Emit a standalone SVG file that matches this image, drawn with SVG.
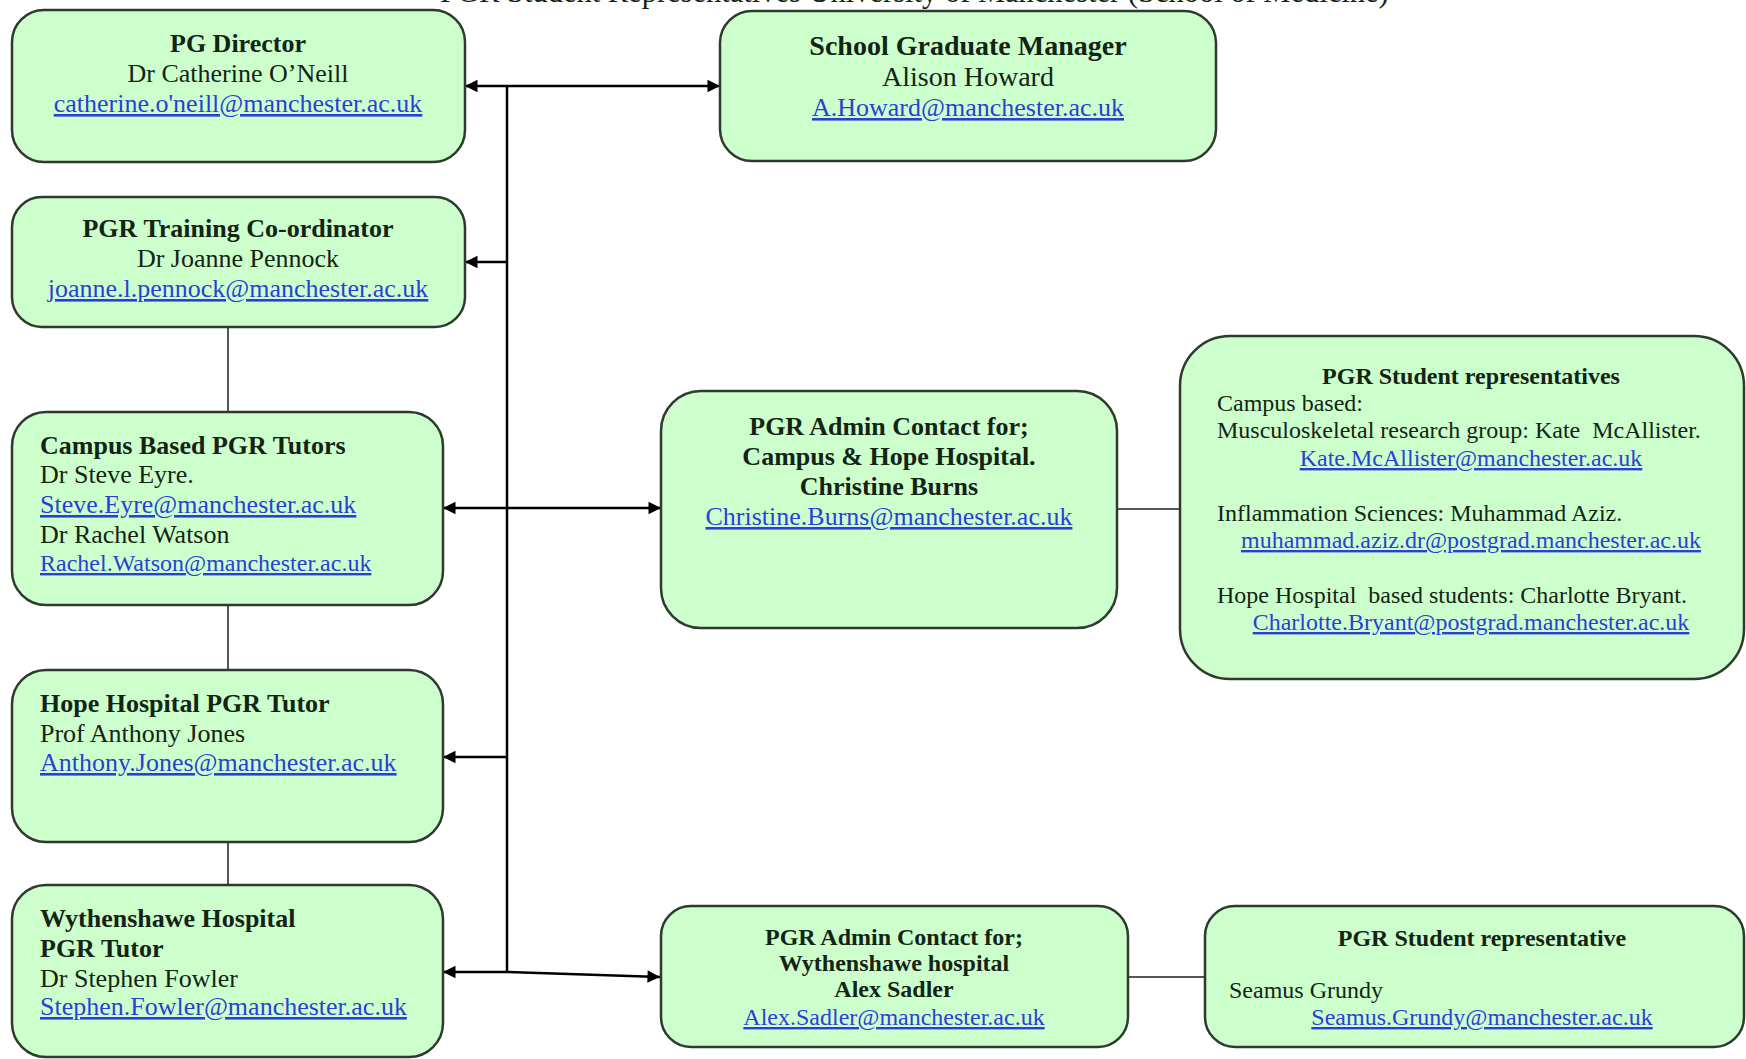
<svg xmlns="http://www.w3.org/2000/svg" width="1746" height="1059" viewBox="0 0 1746 1059">
<style>
.box{fill:#ccffcc;stroke:#2e3a2e;stroke-width:2.5}
text{font-family:"Liberation Serif","Times New Roman",serif;fill:#142414}
.t{font-size:26px}
.b{font-weight:bold}
.s{font-size:24px}
.l{fill:#2b3fd6;text-decoration:underline}
.c{text-anchor:middle}
.conn{stroke:#000;stroke-width:2.5;fill:none}
.tree{stroke:#555;stroke-width:2;fill:none}
</style>
<defs>
<marker id="ah" viewBox="0 0 10 10" refX="10" refY="5" markerWidth="6" markerHeight="5" orient="auto-start-reverse" markerUnits="strokeWidth">
<path d="M0,0 L10,5 L0,10 z" fill="#000"/>
</marker>
</defs>
<text x="440" y="1.5" style="font-size:30.5px" fill="#000">PGR Student Representatives University of Manchester (School of Medicine)</text>
<g id="connectors">
<line class="conn" x1="507" y1="86" x2="507" y2="972"/>
<line class="conn" x1="465" y1="86" x2="720" y2="86" marker-start="url(#ah)" marker-end="url(#ah)"/>
<line class="conn" x1="507" y1="262" x2="465" y2="262" marker-end="url(#ah)"/>
<line class="conn" x1="443" y1="508" x2="661" y2="508" marker-start="url(#ah)" marker-end="url(#ah)"/>
<line class="conn" x1="507" y1="757" x2="443" y2="757" marker-end="url(#ah)"/>
<polyline class="conn" points="443,972 507,972 660,977" marker-start="url(#ah)" marker-end="url(#ah)"/>
<line class="tree" x1="1117" y1="509" x2="1180" y2="509"/>
<line class="tree" x1="1128" y1="977" x2="1205" y2="977"/>
<line class="tree" x1="228" y1="327" x2="228" y2="412"/>
<line class="tree" x1="228" y1="605" x2="228" y2="670"/>
<line class="tree" x1="228" y1="842" x2="228" y2="885"/>
</g>
<g id="pg-director">
<rect class="box" x="12" y="10" width="453" height="152" rx="32"/>
<text class="t b c" x="238" y="52">PG Director</text>
<text class="t c" x="238" y="82">Dr Catherine O’Neill</text>
<text class="t c l" x="238" y="112">catherine.o'neill@manchester.ac.uk</text>
</g>
<g id="training">
<rect class="box" x="12" y="197" width="453" height="130" rx="30"/>
<text class="t b c" x="238" y="237">PGR Training Co-ordinator</text>
<text class="t c" x="238" y="267">Dr Joanne Pennock</text>
<text class="t c l" x="238" y="297">joanne.l.pennock@manchester.ac.uk</text>
</g>
<g id="campus-tutors">
<rect class="box" x="12" y="412" width="431" height="193" rx="34"/>
<text class="t b" x="40" y="454">Campus Based PGR Tutors</text>
<text class="t" x="40" y="483">Dr Steve Eyre.</text>
<text class="t l" x="40" y="513">Steve.Eyre@manchester.ac.uk</text>
<text class="t" x="40" y="543">Dr Rachel Watson</text>
<text class="s l" x="40" y="571">Rachel.Watson@manchester.ac.uk</text>
</g>
<g id="hope-tutor">
<rect class="box" x="12" y="670" width="431" height="172" rx="34"/>
<text class="t b" x="40" y="712">Hope Hospital PGR Tutor</text>
<text class="t" x="40" y="742">Prof Anthony Jones</text>
<text class="t l" x="40" y="771">Anthony.Jones@manchester.ac.uk</text>
</g>
<g id="wythenshawe-tutor">
<rect class="box" x="12" y="885" width="431" height="172" rx="34"/>
<text class="t b" x="40" y="927">Wythenshawe Hospital</text>
<text class="t b" x="40" y="957">PGR Tutor</text>
<text class="t" x="40" y="987">Dr Stephen Fowler</text>
<text class="t l" x="40" y="1015">Stephen.Fowler@manchester.ac.uk</text>
</g>
<g id="graduate-manager">
<rect class="box" x="720" y="11" width="496" height="150" rx="32"/>
<text class="b c" style="font-size:28px" x="968" y="55">School Graduate Manager</text>
<text class="c" style="font-size:28px" x="968" y="86">Alison Howard</text>
<text class="t c l" x="968" y="116">A.Howard@manchester.ac.uk</text>
</g>
<g id="admin-campus">
<rect class="box" x="661" y="391" width="456" height="237" rx="40"/>
<text class="t b c" x="889" y="435">PGR Admin Contact for;</text>
<text class="t b c" x="889" y="465">Campus &amp; Hope Hospital.</text>
<text class="t b c" x="889" y="495">Christine Burns</text>
<text class="t c l" x="889" y="525">Christine.Burns@manchester.ac.uk</text>
</g>
<g id="student-reps">
<rect class="box" x="1180" y="336" width="564" height="343" rx="50"/>
<text class="s b c" x="1471" y="384">PGR Student representatives</text>
<text class="s" x="1217" y="411">Campus based:</text>
<text class="s" x="1217" y="438" xml:space="preserve">Musculoskeletal research group: Kate  McAllister.</text>
<text class="s c l" x="1471" y="466">Kate.McAllister@manchester.ac.uk</text>
<text class="s" x="1217" y="521">Inflammation Sciences: Muhammad Aziz.</text>
<text class="s c l" x="1471" y="548">muhammad.aziz.dr@postgrad.manchester.ac.uk</text>
<text class="s" x="1217" y="603" xml:space="preserve">Hope Hospital  based students: Charlotte Bryant.</text>
<text class="s c l" x="1471" y="630">Charlotte.Bryant@postgrad.manchester.ac.uk</text>
</g>
<g id="admin-wythenshawe">
<rect class="box" x="661" y="906" width="467" height="141" rx="30"/>
<text class="s b c" x="894" y="945">PGR Admin Contact for;</text>
<text class="s b c" x="894" y="971">Wythenshawe hospital</text>
<text class="s b c" x="894" y="997">Alex Sadler</text>
<text class="s c l" x="894" y="1025">Alex.Sadler@manchester.ac.uk</text>
</g>
<g id="student-rep-wythenshawe">
<rect class="box" x="1205" y="906" width="539" height="141" rx="30"/>
<text class="s b c" x="1482" y="946">PGR Student representative</text>
<text class="s" x="1229" y="998">Seamus Grundy</text>
<text class="s c l" x="1482" y="1025">Seamus.Grundy@manchester.ac.uk</text>
</g>
</svg>
